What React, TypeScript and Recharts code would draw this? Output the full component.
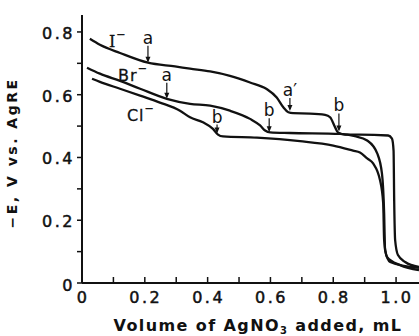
import React from "react";
import { LineChart, Line, XAxis, YAxis, ReferenceDot } from "recharts";

// titration curves: -E (V vs AgRE) against volume of AgNO3 added (mL)
const iodideX = [0.025, 0.057, 0.121, 0.21, 0.296, 0.344, 0.408, 0.471, 0.535, 0.588, 0.62, 0.641, 0.657, 0.672, 0.726, 0.774, 0.79, 0.806, 0.815, 0.838, 0.885, 0.975, 0.987, 0.992, 0.994, 0.997, 1.006, 1.029, 1.073];
const iodideY = [0.778, 0.759, 0.733, 0.702, 0.69, 0.683, 0.674, 0.66, 0.639, 0.618, 0.591, 0.56, 0.544, 0.541, 0.54, 0.536, 0.528, 0.496, 0.48, 0.473, 0.473, 0.47, 0.46, 0.422, 0.263, 0.137, 0.089, 0.067, 0.051];

const bromideX = [0.016, 0.057, 0.121, 0.185, 0.27, 0.344, 0.408, 0.471, 0.535, 0.567, 0.583, 0.599, 0.662, 0.822, 0.869, 0.908, 0.94, 0.955, 0.962, 0.965, 0.981, 1.073];
const bromideY = [0.686, 0.667, 0.644, 0.619, 0.587, 0.571, 0.565, 0.549, 0.523, 0.502, 0.486, 0.48, 0.478, 0.475, 0.468, 0.454, 0.413, 0.349, 0.222, 0.105, 0.067, 0.048];

const chlorideX = [0.032, 0.057, 0.121, 0.185, 0.248, 0.312, 0.344, 0.385, 0.417, 0.433, 0.449, 0.557, 0.694, 0.8, 0.863, 0.885, 0.908, 0.927, 0.949, 0.959, 0.962, 0.971, 1.013, 1.073];
const chlorideY = [0.651, 0.641, 0.619, 0.597, 0.575, 0.549, 0.528, 0.512, 0.491, 0.473, 0.467, 0.463, 0.452, 0.438, 0.422, 0.416, 0.397, 0.381, 0.327, 0.254, 0.137, 0.083, 0.057, 0.041];

const xTicks = [0, 0.1, 0.2, 0.3, 0.4, 0.5, 0.6, 0.7, 0.8, 0.9, 1.0];
const yTicks = [0, 0.1, 0.2, 0.3, 0.4, 0.5, 0.6, 0.7, 0.8];

// arrow annotations (tip sits on the curve)
const markerLabels = ["a", "a", "a\u2032", "b", "b", "b"];
const markerX = [0.21, 0.27, 0.662, 0.43, 0.596, 0.818];
const markerY = [0.702, 0.587, 0.548, 0.476, 0.48, 0.483];
const arrowLen = [17, 16, 13, 9, 14, 18];

const ionNames = ["I", "Br", "Cl"];
const ionX = [0.086, 0.115, 0.143];
const ionY = [0.752, 0.644, 0.517];

const toPoints = (xs: number[], ys: number[]) => xs.map((x, i) => ({ x, y: ys[i] }));
const iodide = toPoints(iodideX, iodideY);
const bromide = toPoints(bromideX, bromideY);
const chloride = toPoints(chlorideX, chlorideY);

const tickFont = { fontFamily: "DejaVu Sans", fontSize: 16, fill: "#111", stroke: "#111", strokeWidth: 0.5, letterSpacing: 2.5 };

const fmt = (v: number) => (v === 0 ? "0" : v.toFixed(1));
const isMajor = (v: number) => Math.round(v * 10) % 2 === 0;

const BottomTick = ({ x, y, payload }: any) => (
  <g>
    <line x1={x} y1={y} x2={x} y2={y - 6} stroke="#111" strokeWidth={1.5} />
    {isMajor(payload.value) && (
      <text x={x + 1} y={y + 20} textAnchor="middle" {...tickFont}>
        {fmt(payload.value)}
      </text>
    )}
  </g>
);

const TopTick = ({ x, y }: any) => (
  <line x1={x} y1={y} x2={x} y2={y + 5} stroke="#111" strokeWidth={1.5} />
);

const LeftTick = ({ x, y, payload }: any) => (
  <g>
    <line x1={x} y1={y} x2={x - 5} y2={y} stroke="#111" strokeWidth={1.5} />
    {isMajor(payload.value) && (
      <text x={x - 7} y={payload.value === 0 ? y + 8 : y + 7} textAnchor="end" {...tickFont}>
        {fmt(payload.value)}
      </text>
    )}
  </g>
);

const arrowShape = (label: string, len: number) => ({ cx, cy }: any) => (
  <g>
    <line x1={cx} y1={cy - len} x2={cx} y2={cy - 2} stroke="#111" strokeWidth={1.2} />
    <path d={`M${cx - 2.5},${cy - 6} L${cx},${cy} L${cx + 2.5},${cy - 6} Z`} fill="#111" />
    <text x={cx} y={cy - len - 2} textAnchor="middle" fontFamily="DejaVu Sans" fontSize={17} fill="#111">
      {label}
    </text>
  </g>
);

const ionShape = (name: string) => ({ cx, cy }: any) => (
  <text x={cx} y={cy} fontFamily={name === "I" ? "DejaVu Serif" : "DejaVu Sans"} fontSize={16} letterSpacing={1} fill="#111" stroke="#111" strokeWidth={0.3}>
    {name}
    <tspan dy={-9} fontSize={11}>{"\u2212"}</tspan>
  </text>
);

export default function App() {
  return (
    <div style={{ position: "absolute", left: 0, top: 0, background: "#fff" }}>
      <LineChart width={419} height={336} margin={{ top: 15, right: 0, left: 0, bottom: 0 }}>
        <XAxis
          dataKey="x"
          type="number"
          domain={[0, 1.073]}
          ticks={xTicks}
          allowDataOverflow
          height={53}
          axisLine={{ stroke: "#111", strokeWidth: 2 }}
          tickLine={false}
          tickSize={0}
          tickMargin={0}
          tick={<BottomTick />}
          interval={0}
        />
        <XAxis
          xAxisId="top"
          orientation="top"
          dataKey="x"
          type="number"
          domain={[0, 1.073]}
          ticks={xTicks}
          allowDataOverflow
          height={0}
          axisLine={{ stroke: "#111", strokeWidth: 2 }}
          tickLine={false}
          tickSize={0}
          tickMargin={0}
          tick={<TopTick />}
          interval={0}
        />
        <YAxis
          type="number"
          domain={[0, 0.854]}
          ticks={yTicks}
          allowDataOverflow
          width={82}
          axisLine={{ stroke: "#111", strokeWidth: 2 }}
          tickLine={false}
          tickSize={0}
          tickMargin={0}
          tick={<LeftTick />}
          interval={0}
        />
        <Line data={iodide} dataKey="y" type="monotone" stroke="#111" strokeWidth={2.3} dot={false} isAnimationActive={false} />
        <Line data={bromide} dataKey="y" type="monotone" stroke="#111" strokeWidth={2.3} dot={false} isAnimationActive={false} />
        <Line data={chloride} dataKey="y" type="monotone" stroke="#111" strokeWidth={2.3} dot={false} isAnimationActive={false} />
        {markerLabels.map((m, i) => (
          <ReferenceDot key={"m" + i} x={markerX[i]} y={markerY[i]} r={0} shape={arrowShape(m, arrowLen[i])} />
        ))}
        {ionNames.map((n, i) => (
          <ReferenceDot key={"n" + i} x={ionX[i]} y={ionY[i]} r={0} shape={ionShape(n)} />
        ))}
        <text x={17} y={153} transform="rotate(-90 17 153)" textAnchor="middle" fontFamily="DejaVu Sans" fontWeight="bold" fontSize={14} letterSpacing={2.5} fill="#111">
          {"\u2212E, V vs. AgRE"}
        </text>
        <text x={258} y={331} textAnchor="middle" fontFamily="DejaVu Sans" fontWeight="bold" fontSize={16} letterSpacing={1.4} fill="#111">
          Volume of AgNO<tspan dy={3} fontSize={10}>3</tspan>
          <tspan dy={-3}> added, mL</tspan>
        </text>
      </LineChart>
    </div>
  );
}
